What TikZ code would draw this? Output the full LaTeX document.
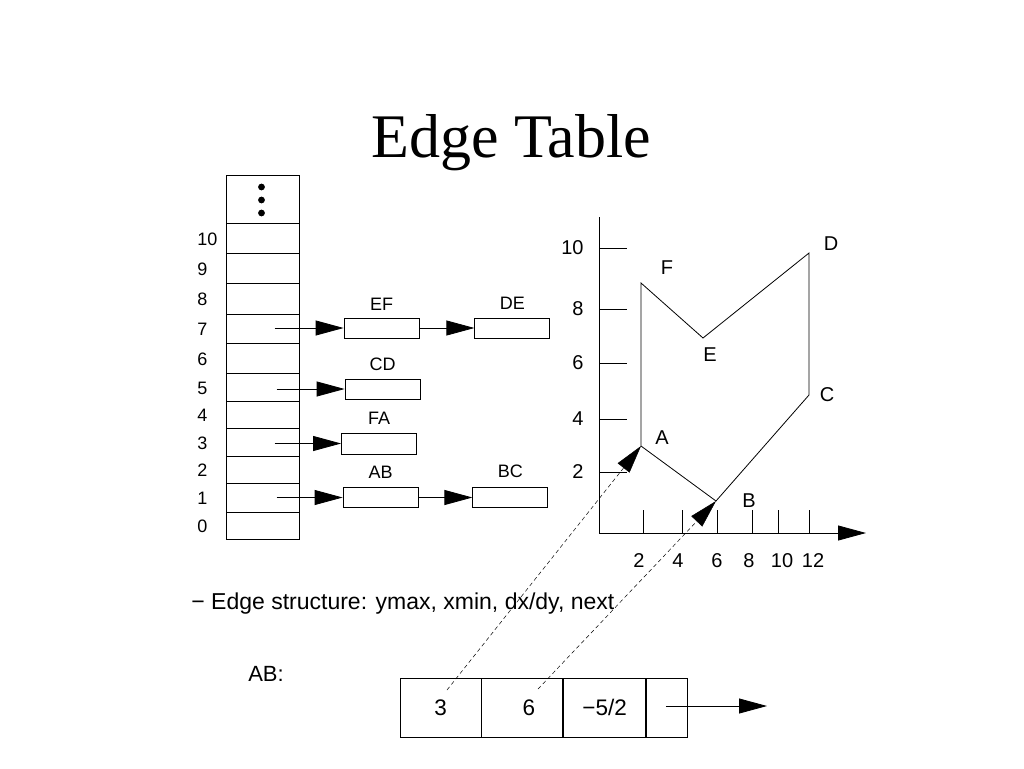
\documentclass[tikz,border=0pt]{standalone}
\usepackage{fontspec}
\setmainfont{Liberation Sans}
\newfontfamily\titlefont{Liberation Serif}
\usetikzlibrary{positioning, arrows.meta}
\tikzset{
>={Triangle[length=28pt, width=15pt]}, % big filled arrow heads
ptr/.style={->}, % a pointer
cell/.style={draw, minimum width=73pt, inner sep=0pt}, % one row of the edge table
rec/.style={draw, minimum width=75pt, minimum height=20pt, inner sep=0pt}, % an edge record
lbl/.style={font=\fontsize{18}{20}\selectfont, inner sep=0pt}, % small labels
glbl/.style={font=\fontsize{20}{22}\selectfont, inner sep=0pt}, % labels of the plot
field/.style={draw, minimum height=59pt, inner sep=0pt, text height=16pt, text depth=0pt, font=\fontsize{22.5}{26}\selectfont}, % a field of the edge structure
}

\begin{document}
\begin{tikzpicture}[x=1pt, y=-1pt, line width=0.8pt]
                \useasboundingbox (0,0) rectangle (1024,768);
                \node[font=\titlefont\fontsize{62}{68}\selectfont, anchor=base] (title) at (511,157) {Edge Table};
                % edge table
                \node[cell, minimum height=48pt] (top) at (262.5,199) {};
                \foreach \y in {187,200,213}
                    \fill (261.5,\y) circle (3.4pt);
                \foreach \n/\t/\b in {10/223/253, 9/253/283, 8/283/314, 7/314/343, 6/343/373, 5/373/401, 4/401/428, 3/428/456, 2/456/483, 1/483/512, 0/512/539}{
                    \node[cell, minimum height=\b pt-\t pt] (r\n) at (262.5,{(\t+\b)/2}) {};
                    \node[lbl, anchor=west] at (197,{(\t+\b)/2+1}) {\n};
                }
                \node[rec] (ef) at (381.5,328) {};
                \node[rec, right=55pt of ef] (de) {};
                \node[rec] (cd) at (382.5,389) {};
                \node[rec, minimum height=21pt] (fa) at (379,443.5) {};
                \node[rec] (ab) at (380.5,497.5) {};
                \node[rec, right=54pt of ab] (bc) {};
                \node[lbl, above=7pt of ef] {EF};
                \node[lbl, above=8pt of de] {DE};
                \node[lbl, above=8pt of cd] {CD};
                \node[lbl, above=8pt of fa] {FA};
                \node[lbl, above=8pt of ab] {AB};
                \node[lbl, above=9pt of bc] {BC};
                \draw[ptr] ([xshift=12pt]r7.center |- ef) -- (ef);
                \draw[ptr] (ef) -- (de);
                \draw[ptr] ([xshift=14pt]r5.center |- cd) -- (cd);
                \draw[ptr] ([xshift=12pt]r3.center |- fa) -- (fa);
                \draw[ptr] ([xshift=14pt]r1.center |- ab) -- (ab);
                \draw[ptr] (ab) -- (bc);
                % polygon and axes
                \draw[->] (599,217) -- (599,533) -- (866,533);
                \foreach \v/\y in {10/248, 8/309, 6/363, 4/419, 2/472}{
                    \draw (599,\y) -- (627,\y);
                    \node[glbl, anchor=east] at (584,\y) {\v};
                }
                \foreach \x in {643,682,717,752,778,809}
                    \draw (\x,533) -- (\x,510);
                \foreach \v/\x in {2/639, 4/678, 6/717, 8/749, 10/782, 12/813}
                    \node[glbl] at (\x,561) {\v};
                \coordinate (pA) at (641,446);
                \coordinate (pB) at (716,501);
                \coordinate (pC) at (809,395);
                \coordinate (pD) at (809,253);
                \coordinate (pE) at (703,338);
                \coordinate (pF) at (641,283);
                \draw (pA) -- (pB) -- (pC) -- (pD) -- (pE) -- (pF) -- cycle;
                \node[glbl] at (662,438) {A};
                \node[glbl] at (749,501) {B};
                \node[glbl] at (827,395) {C};
                \node[glbl] at (831,244) {D};
                \node[glbl] at (710,355) {E};
                \node[glbl] at (667,268) {F};
                % edge structure
                \node[anchor=base west, inner sep=0pt, font=\fontsize{23}{27}\selectfont] (bullet) at (191,609) {− Edge structure: ymax, xmin, dx/dy, next};
                \node[font=\fontsize{22}{26}\selectfont] (abname) at (266,674) {AB:};
                \node[field, minimum width=81pt] (ymax) at (440.5,707.5) {3};
                \node[field, minimum width=81pt, right=0pt of ymax] (xmin) {\hspace{13pt}6};
                \node[field, minimum width=82pt, right=0pt of xmin] (dxdy) {−5/2};
                \node[field, minimum width=41pt, right=0pt of dxdy] (nxt) {};
                \coordinate (nend) at (767,706);
                \draw[ptr] ([xshift=-1pt]nxt.center |- nend) -- (nend);
                \coordinate (s1) at (447,690);
                \coordinate (s2) at (538,689);
                \draw[ptr, line width=0.5pt, dash pattern=on 4pt off 3pt] (s1) -- (pA);
                \draw[ptr, line width=0.5pt, dash pattern=on 4pt off 3pt] (s2) -- (pB);
                \end{tikzpicture}
\end{document}
